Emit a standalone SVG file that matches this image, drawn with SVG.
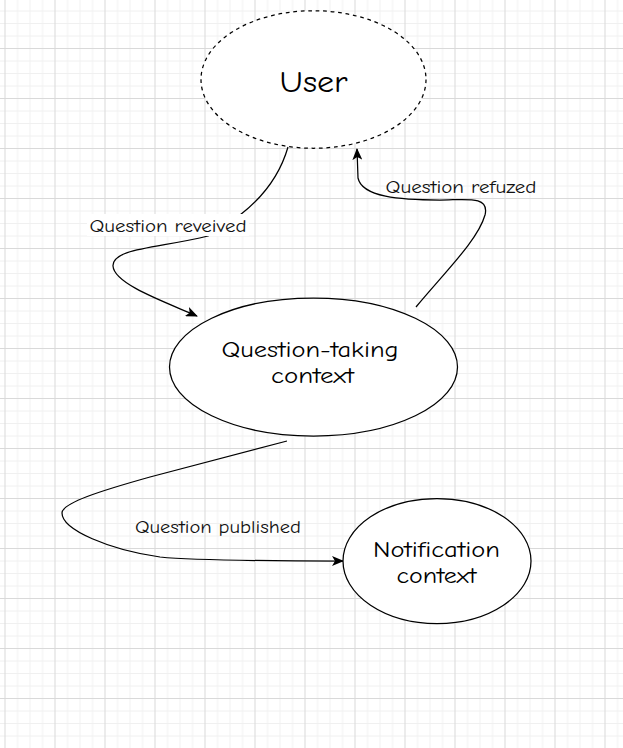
<svg xmlns="http://www.w3.org/2000/svg" width="623" height="748" viewBox="0 0 623 748">
<defs>
<pattern id="grid" x="4.5" y="-2" width="50" height="50" patternUnits="userSpaceOnUse">
<path d="M13,0 V50 M25.5,0 V50 M38,0 V50 M0,13 H50 M0,25.5 H50 M0,38 H50" stroke="#f0f0f0" stroke-width="1" fill="none"/>
<path d="M0.5,0 V50 M0,0.5 H50" stroke="#d9d9d9" stroke-width="1" fill="none"/>
</pattern>
<marker id="arrow" viewBox="0 0 12 10" refX="11" refY="5" markerWidth="12" markerHeight="10" markerUnits="userSpaceOnUse" orient="auto">
<path d="M12,5 L0,0 L3,5 L0,10 Z" fill="#000"/>
</marker>
</defs>
<style>
.node{fill:#fff;stroke:#000;stroke-width:1.25}
.dashed{stroke-dasharray:3.75 3.75}
.edge{fill:none;stroke:#000;stroke-width:1.25;marker-end:url(#arrow)}
.t{font-family:'Comic Sans MS','Comic Neue','Noto Sans',sans-serif;fill:#000;text-anchor:middle}
.nt{font-size:22px}
.lt{font-size:17px;fill:#111}
.lbg{fill:#fff}
</style>
<rect width="623" height="748" fill="#fff"/>
<rect width="623" height="748" fill="url(#grid)"/>
<g id="connectors">
<path class="edge" d="M288,147 C280,175 262,198 240,215 C225,228 215,233 208,236 C160,248 112,248 113,266 C114,284 165,302 197,316"/>
<path class="edge" d="M416,307 C445,272 478,240 485,215 C490,195 465,200 440,200 C400,200 362,197 358,178 L357,149"/>
<path class="edge" d="M287,441 L150,477 C100,491 62,503 62,513 C62,530 110,550 160,557 C200,561 280,561 343,561"/>
<g id="label-received">
<rect class="lbg" x="87" y="214" width="162" height="22"/>
<text class="t lt" x="168" y="231.5" textLength="157" lengthAdjust="spacingAndGlyphs">Question reveived</text>
</g>
<g id="label-refuzed">
<text class="t lt" x="461" y="192.5" textLength="151" lengthAdjust="spacingAndGlyphs">Question refuzed</text>
</g>
<g id="label-published">
<text class="t lt" x="218" y="533" textLength="166" lengthAdjust="spacingAndGlyphs">Question published</text>
</g>
</g>
<g id="node-user">
<ellipse class="node dashed" cx="313.5" cy="79.5" rx="112.5" ry="68.75"/>
<text class="t" x="313.5" y="91.5" font-size="30" textLength="68" lengthAdjust="spacingAndGlyphs">User</text>
</g>
<g id="node-question-taking">
<ellipse class="node" cx="313.5" cy="367" rx="144" ry="69"/>
<text class="t nt" x="310" y="356.5" textLength="177" lengthAdjust="spacingAndGlyphs">Question-taking</text>
<text class="t nt" x="312.5" y="383" textLength="83" lengthAdjust="spacingAndGlyphs">context</text>
</g>
<g id="node-notification">
<ellipse class="node" cx="437" cy="561" rx="94" ry="62.5"/>
<text class="t nt" x="436.5" y="556.5" textLength="127" lengthAdjust="spacingAndGlyphs">Notification</text>
<text class="t nt" x="436.5" y="582.5" textLength="80" lengthAdjust="spacingAndGlyphs">context</text>
</g>
</svg>
